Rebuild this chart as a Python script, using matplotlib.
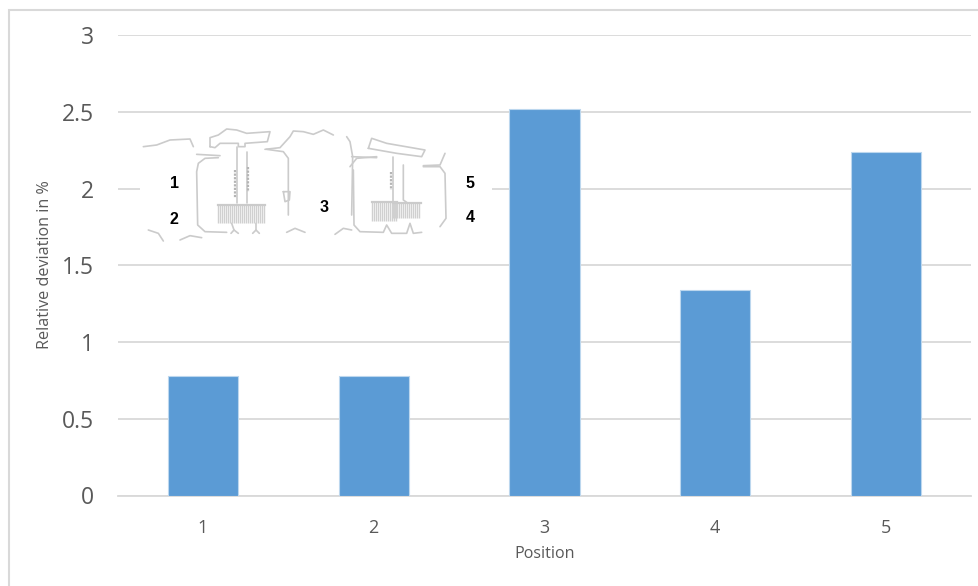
import numpy as np
import matplotlib
matplotlib.use("Agg")
import matplotlib.pyplot as plt
from matplotlib.patches import Rectangle

W, H = 979, 586

positions = [1, 2, 3, 4, 5]
deviation = [0.78, 0.78, 2.52, 1.34, 2.24]
y_ticks = [0, 0.5, 1, 1.5, 2, 2.5, 3]
y_tick_labels = ["0", "0.5", "1", "1.5", "2", "2.5", "3"]

BAR = "#5B9BD5"
GRID = "#D9D9D9"
TEXT = "#595959"
SKETCH = "#CBCBCB"

fig = plt.figure(figsize=(W / 100, H / 100), dpi=100, facecolor="white")

# Pixel-space layer for the outer frame and the cross-section sketch
ov = fig.add_axes([0, 0, 1, 1], zorder=3)
ov.set_xlim(0, W)
ov.set_ylim(H, 0)
ov.axis("off")
ov.patch.set_alpha(0)

ax = fig.add_axes([117.5 / W, 1 - 495.5 / H, (971.5 - 117.5) / W, (495.5 - 35) / H], zorder=1)
ax.bar(positions, deviation, width=0.41, color=BAR, edgecolor="#BCD7EE", linewidth=0.8, zorder=3)
ax.set_xlim(0.5, 5.5)
ax.set_ylim(0, 3)
ax.set_yticks(y_ticks, y_tick_labels)
ax.set_xticks(positions)
ax.grid(axis="y", color=GRID, linewidth=1.3, zorder=0)
ax.set_axisbelow(True)
for name in ("top", "right", "left"):
    ax.spines[name].set_visible(False)
ax.spines["bottom"].set_color(GRID)
ax.spines["bottom"].set_linewidth(1.3)
ax.tick_params(axis="y", length=0, pad=17, labelsize=16.5, labelcolor=TEXT)
ax.tick_params(axis="x", length=0, pad=17, labelsize=13, labelcolor=TEXT)
for lab in ax.get_xticklabels() + ax.get_yticklabels():
    lab.set_fontfamily("Open Sans")
fig.text(545 / W, 1 - 554 / H, "Position", ha="center", va="center",
         fontsize=11.6, color=TEXT, family="Open Sans")
fig.text(45 / W, 1 - 265 / H, "Relative deviation in %", ha="center", va="center",
         rotation=90, fontsize=11.6, color=TEXT, family="Open Sans")

# Chart frame, open on the right and at the bottom
ov.plot([9, 9, 979], [586, 10, 10], color="#D9D9D9", lw=1.5, solid_joinstyle="miter")

# White backing that interrupts the gridline behind the sketch
ov.add_patch(Rectangle((140, 125), 352, 120, facecolor="white", edgecolor="none"))


def sk(x):
    return 130 + np.asarray(x, dtype=float) / 3


def sy(y):
    return 115 + np.asarray(y, dtype=float) / 3


outlines = [
    [(40, 95), (80, 90), (120, 75), (180, 72), (190, 95)],
    [(240, 95), (240, 68), (265, 60), (290, 42), (320, 45), (350, 55), (420, 50), (412, 80),
     (345, 85), (345, 95), (325, 95), (325, 85), (270, 85), (255, 98), (240, 95)],
    [(320, 95), (320, 265)],
    [(350, 110), (350, 265)],
    [(200, 118), (270, 122)],
    [(265, 128), (225, 130), (205, 145), (200, 170), (203, 330), (225, 350), (290, 352)],
    [(305, 325), (312, 345), (303, 355)],
    [(312, 345), (325, 355)],
    [(378, 325), (378, 345), (368, 355)],
    [(378, 345), (388, 355)],
    [(405, 103), (450, 98), (480, 65), (490, 48), (520, 50), (550, 58), (580, 45), (610, 60)],
    [(410, 103), (460, 110), (475, 130), (475, 300)],
    [(460, 230), (480, 230), (478, 255), (465, 260), (460, 230)],
    [(650, 65), (660, 80), (668, 125), (665, 300)],
    [(660, 155), (680, 130), (740, 125)],
    [(665, 125), (740, 128)],
    [(670, 165), (672, 330), (690, 350), (760, 352), (770, 330), (785, 355), (830, 355),
     (840, 325), (850, 355), (875, 352)],
    [(715, 100), (725, 70), (770, 85), (885, 105), (875, 125), (800, 115), (715, 100)],
    [(790, 125), (790, 265)],
    [(820, 150), (820, 255), (830, 262)],
    [(880, 155), (930, 155), (945, 175), (948, 310), (930, 335)],
    [(880, 152), (930, 150), (945, 115)],
    [(470, 352), (495, 340), (525, 352)],
    [(615, 358), (640, 340), (665, 345)],
    [(55, 345), (85, 355), (100, 378)],
    [(150, 375), (180, 362), (215, 368)],
]
for path in outlines:
    xs, ys = zip(*path)
    ov.plot(sk(xs), sy(ys), color=SKETCH, lw=1.2, solid_capstyle="round")

# Thickened sections on the stems
for x0, y0, y1 in [(316, 165, 250), (355, 155, 230), (782, 170, 225)]:
    ov.plot(sk([x0, x0]), sy([y0, y1]), color="#B5B5B5", lw=1.6, ls=(0, (1, 0.6)))

# Heat-sink fin blocks
for x0, x1, y0, y1 in [(265, 405, 270, 325), (725, 800, 262, 318), (790, 872, 265, 310)]:
    fins = np.arange(x0, x1 + 1, 6)
    ov.vlines(sk(fins), sy(y0), sy(y1), color="#D0D0D0", lw=1.0)
    ov.plot(sk([x0, x1]), sy([y0, y0]), color=SKETCH, lw=1.6)

# Position markers on the sketch
markers = [("1", 175, 184), ("2", 174, 219), ("3", 324, 208), ("4", 470, 218), ("5", 470, 184)]
for label, px, py in markers:
    ov.text(px, py, label, ha="center", va="center", fontsize=11.5, fontweight="bold",
            color="black", family="Liberation Sans")

fig.savefig("out.png", dpi=100, facecolor="white")
